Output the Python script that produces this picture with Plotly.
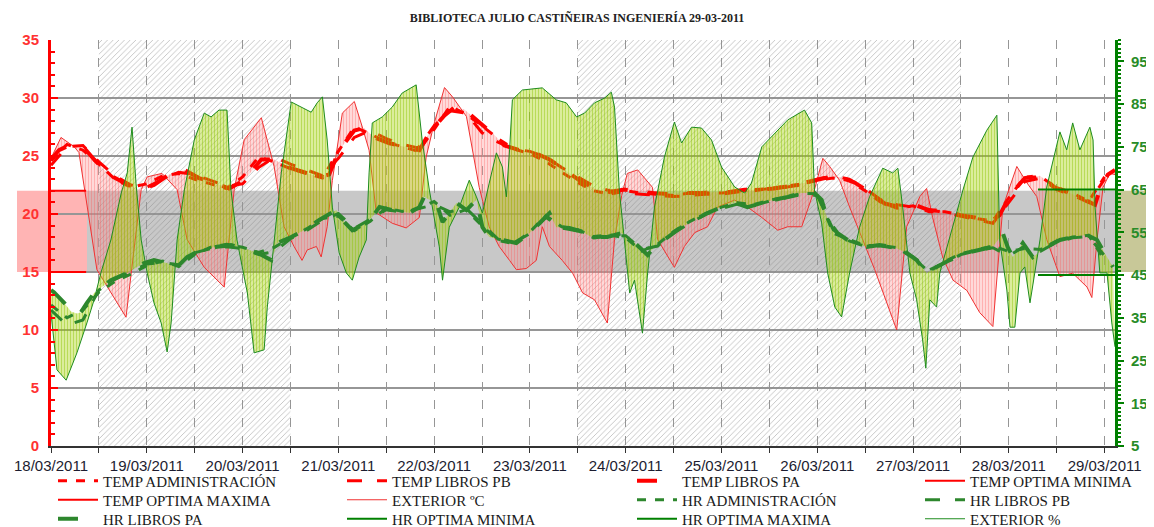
import pandas as pd
import plotly.graph_objects as go

# ---------------- data (hours since 18/03/2011 00:00) ----------------
ext_temp_hours = [0, 2.5, 5.8, 7, 11.5, 18.8, 20.1, 22.6, 24.1, 27.8, 31.6, 34.1, 38.4, 43.4, 45.9, 48.4, 52.7, 55.9, 58.4, 60.9,
                  62.9, 64.2, 66.5, 67.7, 69.2, 70.5, 73.0, 76.0, 78.0, 79.7, 81.5, 85.5, 89.0, 92.3, 94.0, 96.0, 98.6, 100.6, 104.1, 105.6,
                  107.3, 109.8, 112.3, 114.9, 116.6, 119.1, 121.6, 123.1, 124.9, 128.1, 130.7, 133.2, 136.2, 139.4, 141.2, 143.0, 144.4, 147.0, 149.2, 150.7,
                  152.0, 156.2, 158.7, 161.3, 164.5, 167.0, 171.3, 174.5, 178.1, 182.1, 184.6, 188.1, 191.3, 193.4, 195.1, 197.6, 200.1, 206.4, 211.9, 214.4,
                  217.7, 219.4, 220.9, 223.4, 226.0, 229.5, 232.7, 236.0, 238.5, 242.0, 244.5, 247.0, 249.5, 252.8, 256.0, 259.6, 260.8, 262.1, 263.6, 265.3, 266.6]
ext_temp = [24.8, 26.6, 25.8, 25.3, 15.2, 11.1, 14.9, 22.1, 23.2, 23.5, 22.1, 17.8, 15.4, 13.7, 22.1, 26.4, 28.3, 24.1, 18.9, 17.2,
            16.0, 16.9, 17.2, 16.3, 18.9, 22.9, 28.7, 29.7, 27.5, 25.5, 20.1, 19.2, 18.8, 19.7, 24.9, 27.8, 30.9, 30.1, 28.4, 25.5,
            22.3, 18.9, 17.2, 16.0, 15.2, 15.3, 16.0, 18.9, 17.2, 16.0, 14.9, 13.2, 12.6, 10.6, 17.8, 21.6, 23.5, 23.8, 22.9, 22.3,
            17.8, 15.4, 17.2, 18.4, 18.9, 20.6, 21.2, 20.6, 19.7, 18.6, 18.9, 18.9, 22.1, 24.8, 24.1, 22.9, 20.6, 15.2, 10.0, 18.9,
            21.5, 22.2, 19.7, 16.3, 14.3, 13.4, 11.5, 10.3, 20.6, 24.1, 22.7, 21.5, 17.8, 14.6, 14.9, 13.7, 12.8, 17.8, 22.3, 23.5, 23.4]

temp_pa_hours = [0, 2.0, 4.5, 8.3, 10.8, 14.5, 18.3, 22.1, 25.8, 29.6, 33.4, 37.1, 40.9, 44.6, 48.4, 52.7, 55.9, 59.7, 63.4, 67.2,
                 69.7, 72.2, 76.0, 78.5, 81.0, 84.8, 88.5, 92.3, 94.8, 98.6, 101.1, 103.6, 107.3, 111.1, 113.6, 117.4, 121.1, 124.9, 128.7, 132.4,
                 136.2, 139.9, 143.7, 147.5, 151.2, 155.0, 158.7, 162.5, 166.3, 170.0, 173.8, 177.6, 181.3, 185.1, 188.8, 193.9, 197.6, 201.4, 205.1, 208.9,
                 212.7, 216.4, 220.2, 224.0, 227.7, 231.5, 235.2, 237.7, 240.3, 244.0, 247.8, 251.5, 255.3, 259.1, 261.6, 262.8, 264.8, 266.6]
temp_libros_pa = [24.7, 25.5, 25.9, 25.7, 24.7, 23.4, 22.7, 22.1, 22.5, 23.4, 23.8, 23.1, 22.7, 22.2, 22.9, 24.7, 24.7, 24.0, 23.6, 23.2,
                  23.4, 25.5, 27.2, 27.4, 26.6, 26.1, 25.8, 25.5, 27.0, 28.5, 29.2, 29.0, 27.9, 26.8, 25.9, 25.5, 25.3, 24.7, 23.8, 22.9,
                  22.2, 21.9, 22.1, 21.9, 21.8, 21.7, 21.8, 21.8, 21.9, 21.9, 22.1, 22.1, 22.2, 22.4, 22.7, 23.1, 23.2, 22.7, 21.9, 20.9,
                  20.6, 20.8, 20.3, 20.3, 19.9, 19.7, 19.3, 19.9, 21.6, 23.1, 23.3, 22.3, 21.8, 21.2, 20.8, 22.1, 23.4, 23.8]

grid4_hours = list(range(0, 265, 4))
temp_libros_pb = [24.2, 25.8, 25.9, 24.5, 23.3, 22.5, 22.3, 23.0, 23.6, 23.4,
                  22.9, 22.4, 22.6, 24.0, 24.9, 24.3, 23.8, 23.3, 24.8, 26.6,
                  27.2, 26.5, 26.0, 25.7, 27.6, 28.9, 28.7, 27.0, 26.2, 25.6,
                  25.4, 24.9, 24.0, 23.2, 22.4, 22.0, 21.8, 21.7, 21.6, 21.5,
                  21.6, 21.7, 21.7, 21.9, 22.0, 22.2, 22.3, 22.5, 23.0, 23.3,
                  23.0, 22.2, 21.2, 20.8, 20.6, 20.4, 20.1, 19.8, 19.5, 19.2,
                  21.0, 22.8, 23.1, 22.1, 21.6, 21.0, 23.0]
temp_admin = [24.6, 26.0, 25.5, 24.3, 23.0, 22.3, 22.6, 23.3, 23.5, 23.0,
              22.6, 22.2, 23.2, 24.9, 24.5, 23.9, 23.5, 23.1, 25.4, 27.5,
              26.9, 26.2, 25.8, 25.4, 27.3, 29.3, 28.6, 27.6, 26.5, 25.6,
              25.2, 24.5, 23.6, 22.7, 22.0, 21.7, 22.0, 21.8, 21.7, 21.6,
              21.8, 21.8, 21.8, 22.0, 22.1, 22.2, 22.4, 22.6, 22.9, 23.1,
              22.9, 22.0, 21.0, 20.5, 20.7, 20.2, 20.2, 19.9, 19.6, 19.4,
              21.4, 23.2, 23.2, 22.3, 21.8, 21.1, 23.2]

hr_pa_hours = [0, 0.75, 3.3, 5.0, 6.5, 7.5, 9.0, 10.8, 15.0, 19.1, 23.3, 25.8, 29.1, 31.6, 34.1, 37.6, 41.6, 45.1, 48.4, 51.7,
               55.2, 56.7, 60.2, 63.4, 67.2, 71.5, 73.0, 75.5, 78.0, 80.5, 82.3, 85.5, 89.8, 92.3, 93.5, 94.8, 96.6, 98.1, 99.8, 101.6,
               104.1, 106.6, 108.1, 109.8, 113.1, 116.6, 119.9, 123.1, 124.9, 126.6, 129.9, 133.2, 135.4, 139.4, 143.0, 145.5, 148.0, 149.5, 151.2, 154.5,
               158.0, 161.3, 164.5, 168.0, 171.3, 174.5, 178.1, 181.3, 184.6, 188.1, 191.3, 193.1, 194.6, 197.1, 199.6, 200.9, 204.4, 207.6, 210.9, 214.4,
               216.9, 219.4, 221.9, 225.2, 229.5, 232.7, 236.0, 238.5, 239.7, 241.0, 243.5, 246.0, 249.5, 252.8, 256.0, 259.6, 262.1, 264.6, 266.1]
hr_libros_pa = [41.5, 41.0, 38.5, 36.5, 36.0, 36.3, 38.5, 40.8, 43.8, 45.5, 47.8, 48.5, 47.8, 46.9, 49.2, 50.9, 51.6, 52.0, 51.3, 50.2,
                48.5, 52.5, 53.9, 55.5, 57.9, 60.2, 57.9, 55.5, 56.7, 58.6, 60.9, 60.2, 59.5, 60.9, 63.3, 62.6, 61.9, 57.4, 59.5, 61.9,
                60.2, 62.6, 56.2, 53.9, 53.2, 52.5, 54.8, 57.9, 59.5, 56.2, 56.0, 55.1, 53.9, 53.9, 54.8, 53.2, 50.9, 49.7, 51.6, 53.9,
                56.2, 57.9, 59.5, 60.9, 61.9, 60.9, 61.9, 62.6, 63.3, 64.2, 64.2, 62.6, 57.9, 54.8, 53.2, 52.5, 51.6, 52.0, 51.6, 50.2,
                48.5, 45.5, 46.9, 48.5, 50.2, 50.9, 51.6, 54.8, 51.6, 49.2, 52.5, 49.2, 51.6, 53.2, 53.9, 54.4, 53.2, 49.2, 46.9]
hr_libros_pb = [36.8, 33.3, 34.5, 41.5, 44.0, 45.8, 47.6, 47.9, 47.4, 50.2,
                51.2, 51.6, 51.2, 49.8, 50.5, 53.5, 55.4, 57.8, 59.4, 55.9,
                58.0, 60.3, 59.7, 60.5, 61.5, 59.8, 60.6, 57.0, 53.4, 52.6,
                54.7, 58.5, 56.0, 55.3, 53.7, 54.1, 54.2, 51.0, 51.8, 54.9,
                57.0, 59.2, 60.6, 61.6, 61.2, 62.3, 63.0, 63.8, 63.6, 55.6,
                53.0, 51.7, 51.8, 51.2, 49.3, 46.2, 47.9, 49.8, 50.7, 51.4,
                49.5, 51.8, 50.6, 52.7, 53.7, 54.0, 49.5]
hr_admin = [38.0, 35.0, 36.8, 41.0, 43.5, 45.2, 47.2, 48.3, 47.0, 49.8,
            51.5, 52.2, 51.5, 50.3, 51.5, 53.8, 55.8, 58.2, 58.8, 55.4,
            57.6, 60.7, 59.9, 60.6, 62.2, 59.0, 60.3, 56.5, 53.1, 52.3,
            55.1, 58.9, 56.3, 55.6, 54.0, 54.4, 53.7, 50.6, 52.2, 55.2,
            57.5, 59.4, 60.9, 61.9, 61.5, 62.5, 63.2, 64.1, 64.0, 54.8,
            53.3, 51.9, 51.9, 51.4, 49.0, 45.8, 48.2, 50.0, 50.9, 51.8,
            50.5, 51.2, 51.0, 53.0, 53.9, 54.3, 48.5]

ext_hr_hours = [0, 1.5, 3.8, 6.5, 9.0, 10.8, 12.5, 15.0, 17.6, 19.1, 20.3, 21.3, 22.6, 24.1, 25.8, 27.6, 29.1, 30.1, 31.6, 33.4,
                35.9, 38.4, 40.1, 42.1, 44.1, 45.1, 46.6, 49.2, 50.9, 53.4, 54.2, 55.9, 57.7, 60.2, 62.7, 65.2, 66.7, 68.0, 69.2, 70.5,
                72.2, 74.0, 75.5, 77.2, 79.0, 79.7, 80.5, 83.0, 85.5, 88.0, 91.5, 93.0, 94.8, 97.3, 98.1, 99.8, 102.3, 104.8, 106.6, 108.1,
                109.8, 111.6, 113.1, 114.1, 114.9, 115.6, 118.1, 123.1, 126.6, 129.1, 131.7, 133.7, 136.2, 138.7, 140.4, 141.2, 142.4, 143.7, 145.0, 146.2,
                148.2, 149.5, 151.2, 153.7, 156.2, 158.0, 160.5, 163.0, 165.5, 168.0, 171.3, 173.8, 175.5, 178.1, 181.3, 184.6, 188.8, 190.6, 191.3, 193.1,
                194.6, 196.4, 198.1, 200.1, 202.6, 205.1, 208.4, 210.9, 212.2, 213.4, 215.2, 216.9, 218.4, 219.2, 220.2, 221.9, 222.7, 225.2, 228.5, 231.0,
                234.5, 237.0, 237.7, 239.5, 240.3, 241.5, 242.8, 244.0, 245.3, 246.5, 247.8, 249.5, 251.0, 252.8, 254.5, 256.0, 257.8, 260.3, 261.1, 261.6,
                262.8, 264.6, 265.8, 266.6]
ext_hr = [36.1, 22.8, 20.4, 26.8, 33.8, 39.2, 45.5, 53.2, 64.2, 68.9, 79.6, 66.5, 53.2, 45.5, 38.5, 33.8, 27.0, 33.8, 53.2, 64.9,
          76.6, 82.9, 82.0, 83.6, 83.6, 64.9, 53.2, 40.8, 26.8, 27.5, 37.5, 53.2, 68.9, 85.5, 84.3, 83.1, 85.3, 86.7, 76.6, 60.9,
          50.2, 45.5, 43.8, 49.2, 53.2, 68.9, 80.6, 82.0, 84.3, 87.6, 89.5, 76.6, 64.9, 51.6, 43.8, 56.2, 60.9, 67.2, 63.3, 59.5,
          66.5, 73.6, 70.3, 63.3, 74.3, 86.0, 88.3, 88.8, 86.0, 85.3, 82.0, 82.9, 85.3, 86.4, 87.8, 84.3, 64.9, 53.2, 40.8, 43.8,
          31.4, 45.5, 60.9, 72.6, 80.8, 75.9, 79.6, 79.4, 76.6, 70.3, 65.6, 64.2, 66.5, 75.0, 78.2, 81.3, 83.6, 80.6, 64.9, 57.2,
          45.5, 37.5, 35.2, 45.5, 56.2, 63.3, 70.0, 68.9, 70.0, 60.9, 45.5, 39.2, 29.8, 23.2, 39.2, 37.5, 45.5, 53.9, 64.9, 72.6,
          78.9, 82.4, 53.2, 41.5, 32.8, 32.8, 45.5, 46.9, 38.5, 45.5, 53.2, 65.6, 71.2, 78.5, 74.3, 80.6, 74.3, 79.6, 76.6, 60.9,
          45.5, 45.5, 33.8, 28.2]

temp_optima = [15, 22]              # min, max (ºC)
temp_optima_span_hours = [0, 8.8]
hr_optima = [45, 65]                # min, max (%)
hr_optima_span_hours = [247.3, 266.6]

hatch_start_hours = [12, 132]
hatch_end_hours = [60, 228]

x_end_hours = 266.6
temp_range = [0, 35]
hr_range = [5, 100]

# legend layout of the original: 4 columns x 3 rows (page pixels)
legend_col_text_px = [104, 393, 683, 971]
legend_row_center_px = [481, 500, 519]

# ---------------- geometry ----------------
BASE = pd.Timestamp("2011-03-18 00:00")


def to_dt(hours):
    return [BASE + pd.Timedelta(hours=h) for h in hours]


PAGE_W, PAGE_H = 1154, 527
BODY = 8                        # default page margin of the html body
PLOT_L, PLOT_R, PLOT_T, PLOT_B = 51, 1115, 40, 446   # plot area in page pixels
W, H = PAGE_W - BODY, PAGE_H - BODY
ML, MT = PLOT_L - BODY, PLOT_T - BODY
MR, MB = W + BODY - PLOT_R, H + BODY - PLOT_B
PW, PH = PLOT_R - PLOT_L, PLOT_B - PLOT_T

RED = "rgb(255,0,0)"
GREEN = "rgb(0,128,0)"
IND_GREEN = "rgb(45,135,45)"

fig = go.Figure()

# hatched periods
for hs, he in zip(hatch_start_hours, hatch_end_hours):
    fig.add_trace(go.Scatter(
        x=to_dt([hs, he, he, hs, hs]), y=[temp_range[0], temp_range[0], temp_range[1], temp_range[1], temp_range[0]],
        mode="lines", line=dict(width=0), fill="toself", fillcolor="rgba(0,0,0,0)",
        fillpattern=dict(shape="/", fgcolor="rgb(130,130,130)", bgcolor="rgba(0,0,0,0)", size=4, solidity=0.22),
        showlegend=False, hoverinfo="skip"))

# pink fill between indoor and exterior temperature
fig.add_trace(go.Scatter(x=to_dt(temp_pa_hours), y=temp_libros_pa, mode="lines", line=dict(width=0),
                         showlegend=False, hoverinfo="skip"))
fig.add_trace(go.Scatter(x=to_dt(ext_temp_hours), y=ext_temp, mode="lines", line=dict(width=0),
                         fill="tonexty", fillcolor="rgba(0,0,0,0)",
                         fillpattern=dict(shape="|", fgcolor="rgba(255,80,80,0.7)", bgcolor="rgba(255,150,150,0.25)",
                                          size=3, solidity=0.5),
                         showlegend=False, hoverinfo="skip"))

# yellow-green fill between indoor and exterior humidity
fig.add_trace(go.Scatter(x=to_dt(hr_pa_hours), y=hr_libros_pa, yaxis="y2", mode="lines", line=dict(width=0),
                         showlegend=False, hoverinfo="skip"))
fig.add_trace(go.Scatter(x=to_dt(ext_hr_hours), y=ext_hr, yaxis="y2", mode="lines", line=dict(width=0),
                         fill="tonexty", fillcolor="rgba(0,0,0,0)",
                         fillpattern=dict(shape="|", fgcolor="rgb(140,195,0)", bgcolor="rgba(170,215,0,0.3)",
                                          size=3, solidity=0.5),
                         showlegend=False, hoverinfo="skip"))

# visible series: (name, x hours, y, axis, line style)
series = [
    ("TEMP ADMINISTRACIÓN", grid4_hours, temp_admin, "y", dict(color=RED, width=3, dash="dash")),
    ("TEMP LIBROS PB", grid4_hours, temp_libros_pb, "y", dict(color=RED, width=3, dash="longdash")),
    ("TEMP LIBROS PA", temp_pa_hours, temp_libros_pa, "y", dict(color=RED, width=4, dash="longdash")),
    ("TEMP OPTIMA MINIMA", temp_optima_span_hours, [temp_optima[0]] * 2, "y", dict(color=RED, width=2)),
    ("TEMP OPTIMA MAXIMA", temp_optima_span_hours, [temp_optima[1]] * 2, "y", dict(color=RED, width=2)),
    ("EXTERIOR ºC", ext_temp_hours, ext_temp, "y", dict(color="rgb(240,50,50)", width=1)),
    ("HR ADMINISTRACIÓN", grid4_hours, hr_admin, "y2", dict(color=IND_GREEN, width=3, dash="dash")),
    ("HR LIBROS PB", grid4_hours, hr_libros_pb, "y2", dict(color=IND_GREEN, width=3, dash="longdash")),
    ("HR LIBROS PA", hr_pa_hours, hr_libros_pa, "y2", dict(color=IND_GREEN, width=4, dash="longdash")),
    ("HR OPTIMA MINIMA", hr_optima_span_hours, [hr_optima[0]] * 2, "y2", dict(color=GREEN, width=2)),
    ("HR OPTIMA MAXIMA", hr_optima_span_hours, [hr_optima[1]] * 2, "y2", dict(color=GREEN, width=2)),
    ("EXTERIOR %", ext_hr_hours, ext_hr, "y2", dict(color="rgb(30,140,30)", width=1)),
]
# thin exterior lines first, indoor / optimum lines on top
draw_order = [5, 11, 0, 1, 2, 3, 4, 6, 7, 8, 9, 10]

legend_layouts = {}
for idx in draw_order:
    name, xs, ys, ax, ln = series[idx]
    key = "legend" if idx == 0 else f"legend{idx + 1}"
    fig.add_trace(go.Scatter(x=to_dt(xs), y=ys, yaxis=ax, mode="lines", name=name, line=ln,
                             legend=key, showlegend=True))
    row, col = divmod(idx, 4)
    lx = (legend_col_text_px[col] - 51 - PLOT_L) / PW
    ly = (PLOT_B - legend_row_center_px[row]) / PH
    legend_layouts[key] = dict(x=lx, xanchor="left", y=ly, yanchor="middle", orientation="v",
                               font=dict(family="Liberation Serif", size=15, color="#1a1a1a"),
                               bgcolor="rgba(0,0,0,0)", itemwidth=40)

# optimum band (beneath the data, spilling outside the plot like the original)
band_y0 = (temp_optima[0] - temp_range[0]) / (temp_range[1] - temp_range[0])
band_y1 = (temp_optima[1] - temp_range[0]) / (temp_range[1] - temp_range[0])
pink_x0 = (17 - PLOT_L) / PW
pink_x1 = (87 - PLOT_L) / PW
olive_x1 = (PAGE_W - PLOT_L) / PW
band_shapes = [
    dict(type="rect", xref="paper", yref="paper", x0=pink_x0, x1=pink_x1, y0=band_y0, y1=band_y1,
         fillcolor="rgb(255,180,180)", line=dict(width=0), layer="below"),
    dict(type="rect", xref="paper", yref="paper", x0=pink_x1, x1=1, y0=band_y0, y1=band_y1,
         fillcolor="rgb(200,200,200)", line=dict(width=0), layer="below"),
    dict(type="rect", xref="paper", yref="paper", x0=1, x1=olive_x1, y0=band_y0, y1=band_y1,
         fillcolor="rgb(200,200,152)", line=dict(width=0), layer="below"),
]

fig.update_layout(
    width=W, height=H,
    margin=dict(l=ML, r=MR, t=MT, b=MB, autoexpand=False),
    paper_bgcolor="white", plot_bgcolor="rgba(0,0,0,0)",
    shapes=band_shapes,
    title=dict(text="BIBLIOTECA JULIO CASTIÑEIRAS INGENIERÍA 29-03-2011", x=(577 - BODY) / W, xanchor="center",
               y=1 - (18 - BODY) / H, yanchor="middle",
               font=dict(family="Liberation Serif", size=12, color="#222222", weight="bold")),
    xaxis=dict(
        type="date", range=[BASE, BASE + pd.Timedelta(hours=x_end_hours)],
        tick0=BASE, dtick=86400000, tickformat="%d/%m/%Y",
        ticks="outside", ticklen=5, tickcolor="#333", showline=True, linecolor="#333", linewidth=1.5,
        showgrid=True, gridcolor="rgb(150,150,150)", griddash="dash", gridwidth=1,
        minor=dict(dtick=43200000, ticks="outside", ticklen=5, tickcolor="#333",
                   showgrid=True, gridcolor="rgb(150,150,150)", griddash="dash", gridwidth=1),
        tickfont=dict(family="Liberation Sans", size=15, color="#1c1c30"),
        zeroline=False,
    ),
    yaxis=dict(
        range=temp_range, dtick=5, tick0=0,
        ticks="inside", ticklen=7, tickwidth=1.5, tickcolor=RED,
        showline=True, linecolor=RED, linewidth=3,
        showgrid=True, gridcolor="rgb(150,150,150)", gridwidth=1.5,
        minor=dict(dtick=1, ticks="inside", ticklen=4, tickcolor=RED, showgrid=False),
        tickfont=dict(family="Liberation Sans", size=15, color="rgb(255,50,50)", weight="bold"),
        ticklabelstandoff=6, zeroline=False,
    ),
    yaxis2=dict(
        range=hr_range, overlaying="y", side="right", anchor="x",
        tick0=5, dtick=10,
        ticks="outside", ticklen=6, tickwidth=2, tickcolor=GREEN,
        showline=True, linecolor=GREEN, linewidth=3, showgrid=False,
        minor=dict(dtick=1, ticks="outside", ticklen=3, tickcolor=GREEN, showgrid=False),
        tickfont=dict(family="Liberation Sans", size=15, color="rgb(40,140,40)", weight="bold"),
        ticklabelstandoff=4, zeroline=False,
    ),
    showlegend=True,
    **legend_layouts,
)

fig.write_html("out.html")
